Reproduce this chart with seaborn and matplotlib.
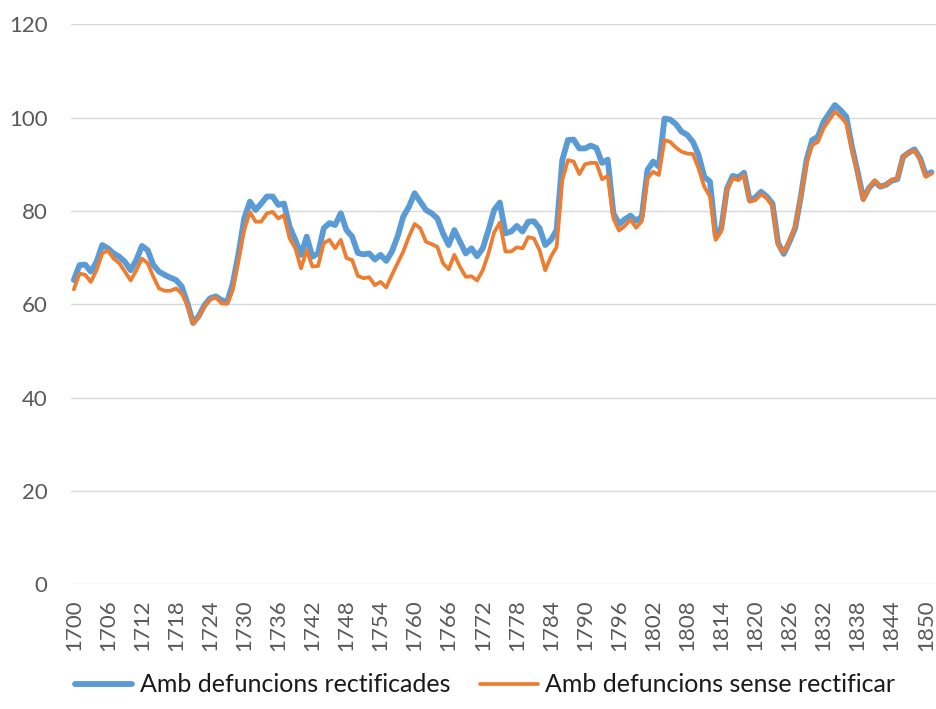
import matplotlib
matplotlib.use("Agg")
import matplotlib.pyplot as plt
import seaborn as sns
import pandas as pd

years = list(range(1700, 1852))

rectificades = [
    65.2, 68.4, 68.5, 67.0, 69.1, 72.7, 72.0, 70.9, 70.2, 69.1,
    67.3, 69.5, 72.5, 71.6, 68.4, 67.0, 66.3, 65.7, 65.2, 63.8,
    60.2, 56.0, 57.5, 59.8, 61.3, 61.7, 60.9, 60.5, 64.5, 70.9,
    78.4, 82.0, 80.2, 81.6, 83.1, 83.1, 81.3, 81.6, 76.6, 73.8,
    70.6, 74.5, 70.2, 70.9, 76.3, 77.4, 77.0, 79.5, 75.9, 74.5,
    71.0, 70.7, 70.9, 69.6, 70.6, 69.3, 71.3, 74.5, 78.8, 80.9,
    83.8, 82.0, 80.2, 79.5, 78.4, 75.2, 72.7, 75.9, 73.4, 70.9,
    72.0, 70.3, 72.0, 75.9, 80.2, 81.8, 75.2, 75.6, 76.8, 75.6,
    77.7, 77.8, 76.3, 72.7, 73.8, 75.9, 90.9, 95.2, 95.3, 93.4,
    93.4, 94.0, 93.5, 90.3, 91.0, 79.5, 77.2, 78.2, 79.0, 77.9,
    78.8, 88.8, 90.6, 89.5, 99.8, 99.6, 98.6, 97.0, 96.3, 94.8,
    92.0, 87.3, 86.3, 74.8, 76.3, 84.8, 87.5, 87.2, 88.2, 82.3,
    82.9, 84.1, 83.1, 81.6, 73.1, 70.8, 73.4, 76.3, 83.1, 90.9,
    95.2, 95.9, 99.1, 100.9, 102.7, 101.6, 100.2, 93.8, 88.4, 82.6,
    84.9, 86.3, 85.2, 85.6, 86.5, 86.8, 91.6, 92.5, 93.2, 91.3,
    87.7, 88.3,
]

sense_rectificar = [
    63.2, 66.6, 66.3, 64.8, 67.3, 70.9, 71.5, 69.8, 68.8, 67.0,
    65.1, 67.3, 69.8, 68.8, 65.9, 63.4, 62.9, 62.9, 63.4, 62.3,
    59.8, 55.8, 57.3, 59.5, 61.0, 61.5, 60.2, 60.1, 63.1, 69.5,
    75.9, 79.8, 77.7, 77.7, 79.5, 79.8, 78.4, 79.1, 74.1, 72.0,
    67.7, 71.6, 68.1, 68.2, 73.1, 73.8, 72.0, 73.8, 69.9, 69.5,
    66.1, 65.6, 65.8, 64.1, 64.8, 63.6, 66.3, 68.8, 71.3, 74.5,
    77.2, 76.3, 73.4, 72.9, 72.3, 68.8, 67.5, 70.6, 68.0, 65.9,
    66.0, 65.1, 67.3, 70.9, 75.4, 77.5, 71.3, 71.3, 72.2, 72.0,
    74.4, 74.1, 71.6, 67.3, 70.2, 72.3, 86.6, 90.9, 90.6, 87.9,
    90.0, 90.3, 90.3, 86.8, 87.5, 78.4, 75.8, 76.8, 78.1, 76.4,
    77.8, 87.0, 88.4, 87.7, 95.2, 94.8, 93.6, 92.7, 92.3, 92.2,
    89.1, 85.2, 83.1, 73.8, 75.6, 84.5, 87.0, 86.6, 87.7, 82.0,
    82.3, 83.6, 82.7, 81.1, 72.7, 71.1, 73.7, 76.6, 83.1, 90.2,
    94.1, 94.8, 97.7, 99.5, 101.3, 100.2, 98.8, 93.1, 88.1, 82.3,
    84.9, 86.6, 85.2, 85.6, 86.7, 86.9, 91.6, 92.5, 93.0, 91.0,
    87.3, 88.0,
]

labels = ["Amb defuncions rectificades", "Amb defuncions sense rectificar"]
tick_years = list(range(1700, 1851, 6))
y_ticks = [0, 20, 40, 60, 80, 100, 120]

df = pd.DataFrame({
    "year": years * 2,
    "value": rectificades + sense_rectificar,
    "serie": [labels[0]] * len(years) + [labels[1]] * len(years),
})

sns.set_theme(style="white")
plt.rcParams["font.family"] = ["Lato", "DejaVu Sans"]

fig = plt.figure(figsize=(9.36, 7.09), dpi=100)
ax = fig.add_axes([71 / 936, 1 - 584.3 / 709, 1 - 71 / 936, (584.3 - 24.3) / 709])

ax.yaxis.grid(True, color="#D9D9D9", linewidth=1.0, zorder=0)
ax.set_axisbelow(True)

sns.lineplot(data=df[df.serie == labels[0]], x="year", y="value", ax=ax,
             color="#5B9BD5", linewidth=4.2, label=labels[0], zorder=3)
sns.lineplot(data=df[df.serie == labels[1]], x="year", y="value", ax=ax,
             color="#ED7D31", linewidth=2.7, label=labels[1], zorder=4)

ax.set_xlim(1699.5, 1851.8)
ax.set_ylim(0, 120)
ax.set_xticks(tick_years)
ax.set_xticklabels([str(y) for y in tick_years], rotation=90)
ax.set_yticks(y_ticks)
ax.set_yticklabels([str(v) for v in y_ticks])
ax.tick_params(axis="y", length=0, pad=17, labelsize=16, labelcolor="#595959")
ax.tick_params(axis="x", length=0, pad=11, labelsize=16, labelcolor="#595959")
ax.set_xlabel("")
ax.set_ylabel("")
for s in ax.spines.values():
    s.set_visible(False)

handles, lbls = ax.get_legend_handles_labels()
ax.get_legend().remove()
fig.legend(handles, lbls, loc="center", bbox_to_anchor=(0.518, 1 - 685 / 709),
           ncol=2, frameon=False, fontsize=18, handlelength=2.3,
           handletextpad=0.3, columnspacing=1.2, labelcolor="#1a1a1a")

fig.savefig("out.png", dpi=100)
